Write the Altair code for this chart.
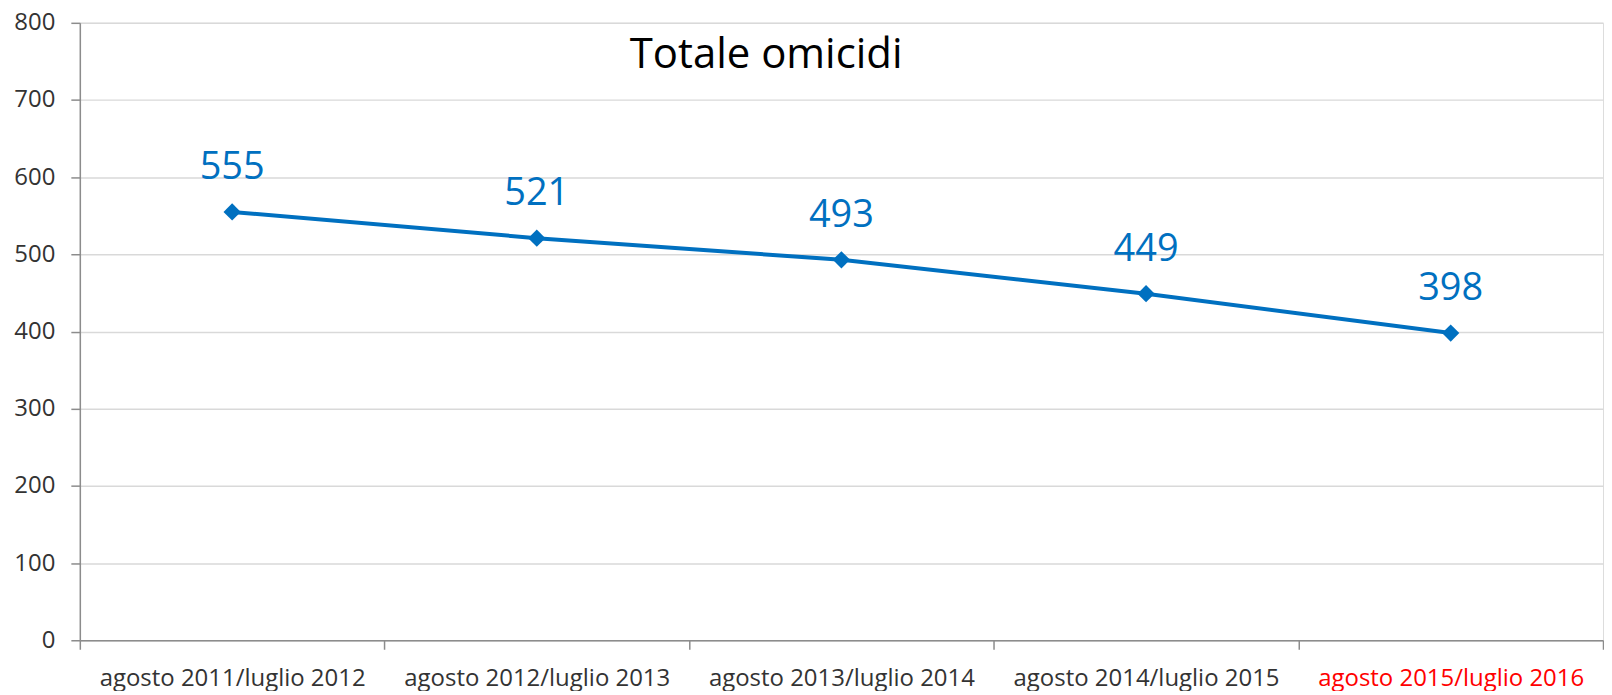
import altair as alt
import pandas as pd

categories = [
    "agosto 2011/luglio 2012",
    "agosto 2012/luglio 2013",
    "agosto 2013/luglio 2014",
    "agosto 2014/luglio 2015",
    "agosto 2015/luglio 2016",
]
values = [555, 521, 493, 449, 398]
y_ticks = [0, 100, 200, 300, 400, 500, 600, 700, 800]
title_text = "Totale omicidi"
highlight = "agosto 2015/luglio 2016"

df = pd.DataFrame({"periodo": categories, "omicidi": values})

FONT = "Open Sans"
BLUE = "#0070C0"

x = alt.X(
    "periodo:N",
    sort=categories,
    scale=alt.Scale(paddingInner=0, paddingOuter=0),
    axis=alt.Axis(
        title=None,
        labelAngle=0,
        tickBand="extent",
        tickSize=9,
        tickColor="#8c8c8c",
        tickWidth=1.5,
        domainColor="#8c8c8c",
        domainWidth=1.5,
        labelFont=FONT,
        labelFontSize=24,
        labelLimit=0,
        labelPadding=17,
        labelColor=alt.ExprRef(
            expr=f"datum.value == '{highlight}' ? '#FF0000' : '#333333'"
        ),
        grid=False,
    ),
)
y = alt.Y(
    "omicidi:Q",
    scale=alt.Scale(domain=[0, 800], nice=False),
    axis=alt.Axis(
        title=None,
        values=y_ticks,
        tickSize=9,
        tickColor="#8c8c8c",
        tickWidth=1.5,
        domainColor="#8c8c8c",
        domainWidth=1.5,
        gridColor="#d9d9d9",
        gridWidth=1.5,
        labelFont=FONT,
        labelFontSize=24,
        labelColor="#333333",
        labelPadding=16,
    ),
)

base = alt.Chart(df).encode(x=x, y=y)

line = base.mark_line(color=BLUE, strokeWidth=4)
points = base.mark_point(shape="diamond", filled=True, size=300, color=BLUE, opacity=1)
labels = base.mark_text(
    font=FONT, fontSize=38, color=BLUE, dy=-44, baseline="middle"
).encode(text="omicidi:Q")

title = alt.Chart(pd.DataFrame({"t": [title_text]})).mark_text(
    font=FONT, fontSize=42, color="black", baseline="middle", align="center"
).encode(x=alt.value(688), y=alt.value(32), text="t:N")

chart = (
    alt.layer(line, points, labels, title)
    .properties(width=1527, height=619, padding={"left": 5, "top": 2, "right": 0, "bottom": 0})
    .configure_view(stroke=None)
    .configure(background="white")
)

chart.save("out.html", embed_options={"renderer": "svg", "actions": False})
